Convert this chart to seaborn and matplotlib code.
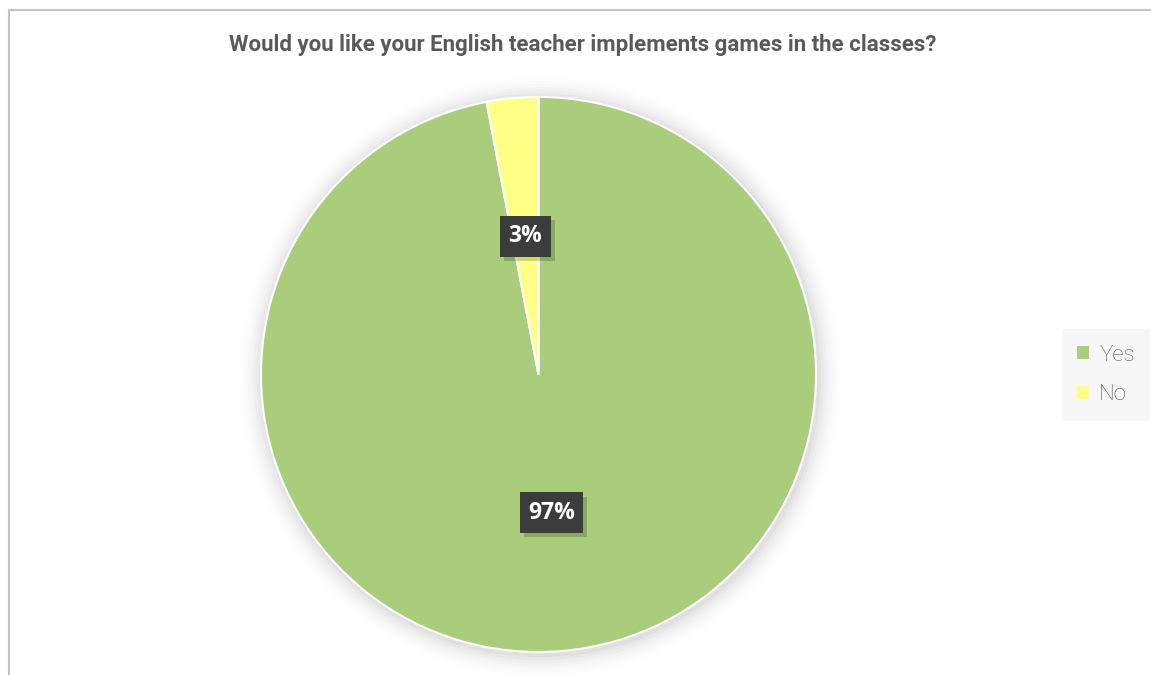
import matplotlib
matplotlib.use("Agg")
import matplotlib.pyplot as plt
import matplotlib.patheffects as pe
from matplotlib.patches import Rectangle, Circle
import seaborn as sns

# Survey answers (percent of respondents)
answers = ["Yes", "No"]
shares = [97, 3]
title = "Would you like your English teacher implements games in the classes?"

sns.set_theme(style="white")
plt.rcParams["font.family"] = ["Roboto", "DejaVu Sans"]

colors = sns.color_palette(["#A9CD7B", "#FFFF85"])

W, H = 1151, 675
fig = plt.figure(figsize=(W / 100, H / 100), dpi=100)
fig.patch.set_facecolor("white")

# Chart frame (open at right and bottom edges)
fig.add_artist(Rectangle((8.5 / W, -0.05), 1.2, (H - 9.5) / H + 0.05,
                         transform=fig.transFigure, fill=False,
                         edgecolor="#C4C4C4", linewidth=1.5))

# Square axes holding the pie
cx, cy, r = 538.5, 374.5, 277.5
ax = fig.add_axes([(cx - r) / W, (H - cy - r) / H, 2 * r / W, 2 * r / H])
ax.set_axis_off()

# soft glow under the pie
for k, a in enumerate([0.03, 0.025, 0.02, 0.016, 0.012, 0.009, 0.006, 0.004]):
    ax.add_patch(Circle((0.006, -0.008), 1.0 + 0.011 * (k + 1),
                        facecolor="black", alpha=a, edgecolor="none",
                        zorder=0, clip_on=False))

wedges, texts, autotexts = ax.pie(
    shares, labels=None, colors=colors, startangle=90, counterclock=False,
    autopct=lambda p: f"{p:.0f}%", pctdistance=0.5,
    wedgeprops=dict(edgecolor="white", linewidth=1.5),
    textprops=dict(color="white", fontsize=16.5, fontweight="bold",
                   family=["Open Sans", "DejaVu Sans"]))
for w in wedges:
    w.set_zorder(2)

for t in autotexts:
    t.set_zorder(5)
    t.set_bbox(dict(boxstyle="square,pad=0.36", facecolor="#3C3C3C",
                    edgecolor="none"))
    t.get_bbox_patch().set_path_effects(
        [pe.SimplePatchShadow(offset=(3, -3), shadow_rgbFace="black", alpha=0.18),
         pe.Normal()])

ax.set_xlim(-1, 1)
ax.set_ylim(-1, 1)
ax.set_aspect("equal")

fig.text(583 / W, 1 - 45 / H, title, ha="center", va="center",
         fontsize=16, fontweight="semibold", color="#595959")

leg = fig.legend(wedges, answers, loc="center", bbox_to_anchor=(1106 / W, 1 - 375 / H),
                 frameon=True, prop=dict(family="Roboto", weight="light", size=16),
                 handlelength=0.55, handleheight=0.55,
                 handletextpad=0.45, labelspacing=0.85, borderpad=0.7,
                 borderaxespad=0, labelcolor="#595959")
leg.get_frame().set_facecolor("#F7F7F7")
leg.get_frame().set_edgecolor("none")
leg.get_frame().set_alpha(1)
leg.get_frame().set_boxstyle("square", pad=0)
for h in leg.legend_handles:
    h.set_edgecolor("none")

fig.savefig("out.png", dpi=100, facecolor="white")
